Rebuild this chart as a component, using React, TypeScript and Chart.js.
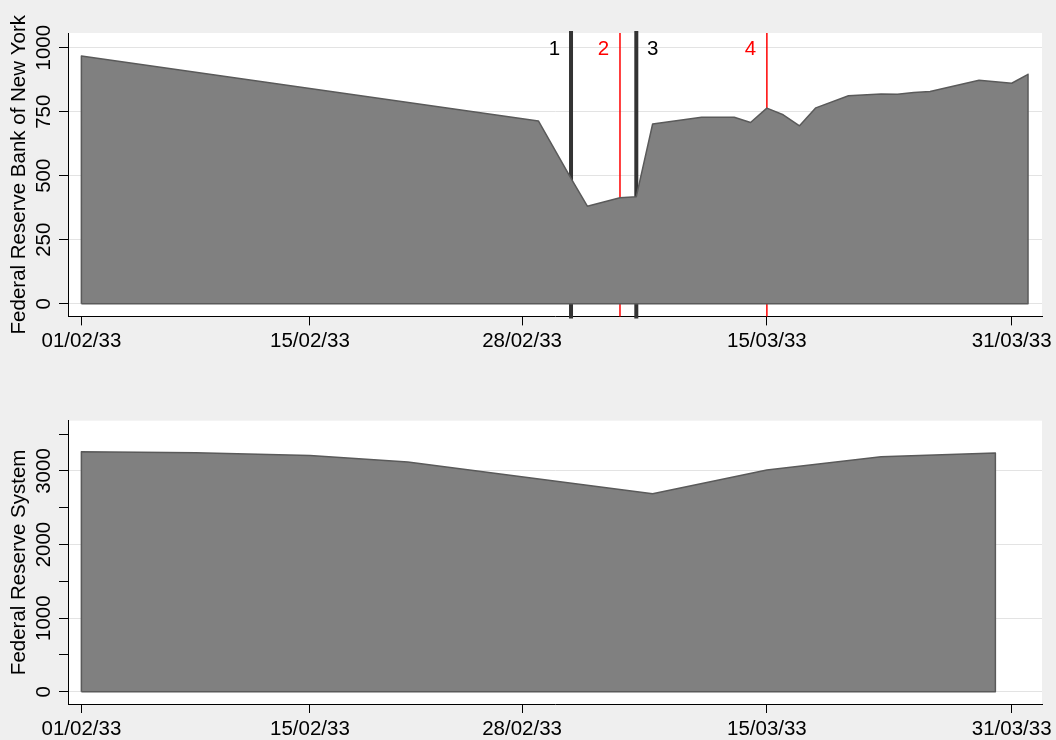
import React, { useEffect, useRef } from 'react';
import { Chart, registerables } from 'chart.js';

Chart.register(...registerables);

// ---------- data ----------
const BASE_DATE = '1933-02-01';

const nyDates = [
  '1933-02-01', '1933-03-01', '1933-03-03', '1933-03-04', '1933-03-06', '1933-03-07',
  '1933-03-08', '1933-03-11', '1933-03-13', '1933-03-14', '1933-03-15', '1933-03-16',
  '1933-03-17', '1933-03-18', '1933-03-20', '1933-03-22', '1933-03-23', '1933-03-24',
  '1933-03-25', '1933-03-28', '1933-03-30', '1933-03-31',
];
const nyValues = [
  968, 714, 490, 381, 414, 418,
  702, 728, 728, 708, 764, 738,
  695, 765, 812, 819, 818, 825,
  829, 873, 861, 896,
];

const frsDates = [
  '1933-02-01', '1933-02-08', '1933-02-15', '1933-02-21',
  '1933-03-08', '1933-03-15', '1933-03-22', '1933-03-29',
];
const frsValues = [3261, 3247, 3212, 3121, 2692, 3012, 3193, 3243];

const xTickDates = ['1933-02-01', '1933-02-15', '1933-02-28', '1933-03-15', '1933-03-30'];
const xTickLabels = ['01/02/33', '15/02/33', '28/02/33', '15/03/33', '31/03/33'];

const nyYTicks = [0, 250, 500, 750, 1000];
const nyYLabelValues = [0, 250, 500, 750, 1000];
const frsYTicks = [0, 500, 1000, 1500, 2000, 2500, 3000, 3500];
const frsYLabelValues = [0, 1000, 2000, 3000];

const eventDates = ['1933-03-03', '1933-03-06', '1933-03-07', '1933-03-15'];
const eventLabels = ['1', '2', '3', '4'];
const eventColors = ['#333333', '#ff0000', '#333333', '#ff0000'];
const eventWidths = [4, 1.5, 4, 1.5];
const eventLabelSide = [-1, -1, 1, -1];
const EVENT_LABEL_VALUE = 994;

const nyTitle = 'Federal Reserve Bank of New York';
const frsTitle = 'Federal Reserve System';

// ---------- helpers ----------
const FONT_FAMILY = '"Liberation Sans", Arial, Helvetica, sans-serif';
const FONT_SIZE = 20.5;
const FONT = `${FONT_SIZE}px ${FONT_FAMILY}`;
const DAY = 86400000;
const dayOf = (s: string) =>
  (Date.parse(s + 'T00:00:00Z') - Date.parse(BASE_DATE + 'T00:00:00Z')) / DAY;

const X_MIN = -0.82;
const X_MAX = 58.86;

type PanelCfg = {
  dates: string[];
  values: number[];
  yMin: number;
  yMax: number;
  yTicks: number[];
  yLabelValues: number[];
  title: string;
  padTop: number;
  xHeight: number;
  events: boolean;
};

function buildPanel(canvas: HTMLCanvasElement, cfg: PanelCfg) {
  const pts = cfg.dates.map((d, i) => ({ x: dayOf(d), y: cfg.values[i] }));
  const x0 = pts[0].x;
  const xn = pts[pts.length - 1].x;
  const outline = [{ x: x0, y: 0 }, ...pts, { x: xn, y: 0 }, { x: x0, y: 0 }];

  const panelPlugin = {
    id: 'panelPlugin',
    beforeDraw(chart: any) {
      const { ctx, chartArea: a } = chart;
      ctx.save();
      ctx.fillStyle = '#ffffff';
      ctx.fillRect(a.left, a.top, a.right - a.left, a.bottom - a.top);
      ctx.restore();
    },
    beforeDatasetsDraw(chart: any) {
      if (!cfg.events) return;
      const { ctx, chartArea: a } = chart;
      const xs = chart.scales.x;
      ctx.save();
      eventDates.forEach((d, i) => {
        const px = xs.getPixelForValue(dayOf(d));
        ctx.beginPath();
        ctx.strokeStyle = eventColors[i];
        ctx.lineWidth = eventWidths[i];
        ctx.lineCap = eventWidths[i] > 2 ? 'square' : 'butt';
        ctx.moveTo(px, a.top);
        ctx.lineTo(px, a.bottom);
        ctx.stroke();
      });
      ctx.restore();
    },
    afterDatasetsDraw(chart: any) {
      if (!cfg.events) return;
      const { ctx } = chart;
      const xs = chart.scales.x;
      const ys = chart.scales.y;
      ctx.save();
      ctx.font = FONT;
      ctx.textAlign = 'center';
      ctx.textBaseline = 'middle';
      eventDates.forEach((d, i) => {
        const px = xs.getPixelForValue(dayOf(d));
        ctx.fillStyle = eventColors[i] === '#ff0000' ? '#ff0000' : '#000000';
        ctx.fillText(eventLabels[i], px + eventLabelSide[i] * 16.5, ys.getPixelForValue(EVENT_LABEL_VALUE));
      });
      ctx.restore();
    },
    afterDraw(chart: any) {
      const { ctx, chartArea: a } = chart;
      const ys = chart.scales.y;
      ctx.save();
      ctx.font = FONT;
      ctx.fillStyle = '#000000';
      ctx.textAlign = 'center';
      ctx.textBaseline = 'middle';
      cfg.yLabelValues.forEach((v) => {
        const py = ys.getPixelForValue(v);
        ctx.save();
        ctx.translate(a.left - 23.5, py);
        ctx.rotate(-Math.PI / 2);
        ctx.fillText(String(v), 0, 0);
        ctx.restore();
      });
      ctx.save();
      ctx.translate(a.left - 48.8, (a.top + a.bottom) / 2);
      ctx.rotate(-Math.PI / 2);
      ctx.fillText(cfg.title, 0, 0);
      ctx.restore();
      ctx.restore();
    },
  };

  return new Chart(canvas, {
    type: 'line',
    data: {
      datasets: [
        {
          data: outline,
          borderColor: '#5a5a5a',
          borderWidth: 1.5,
          borderJoinStyle: 'round',
          fill: false,
          pointRadius: 0,
          tension: 0,
        },
        {
          data: pts,
          backgroundColor: '#808080',
          borderWidth: 0,
          borderColor: 'rgba(0,0,0,0)',
          fill: 'origin',
          pointRadius: 0,
          tension: 0,
        },
      ],
    },
    options: {
      responsive: false,
      animation: false,
      devicePixelRatio: 1,
      events: [],
      layout: { padding: { top: cfg.padTop, right: 13, left: 0, bottom: 0 } },
      plugins: { legend: { display: false }, tooltip: { enabled: false } },
      scales: {
        x: {
          type: 'linear',
          min: X_MIN,
          max: X_MAX,
          afterBuildTicks: (scale: any) => {
            scale.ticks = xTickDates.map((d) => ({ value: dayOf(d) }));
          },
          afterFit: (scale: any) => {
            scale.height = cfg.xHeight;
          },
          ticks: {
            autoSkip: false,
            maxRotation: 0,
            minRotation: 0,
            padding: 4,
            color: '#000000',
            font: { family: FONT_FAMILY, size: FONT_SIZE },
            callback: (_v: any, i: number) => xTickLabels[i],
          },
          grid: {
            drawOnChartArea: false,
            drawTicks: true,
            tickLength: 9,
            tickColor: '#000000',
            tickWidth: 1,
          },
          border: { display: true, color: '#000000', width: 1 },
        },
        y: {
          type: 'linear',
          min: cfg.yMin,
          max: cfg.yMax,
          afterBuildTicks: (scale: any) => {
            scale.ticks = cfg.yTicks.map((v) => ({ value: v }));
          },
          afterFit: (scale: any) => {
            scale.width = 68;
          },
          ticks: { display: false },
          grid: {
            drawOnChartArea: true,
            drawTicks: true,
            tickLength: 9,
            tickColor: '#000000',
            tickWidth: 1,
            lineWidth: 1,
            color: (c: any) =>
              c.tick && cfg.yLabelValues.includes(c.tick.value) ? '#e3e3e3' : 'rgba(0,0,0,0)',
          },
          border: { display: true, color: '#000000', width: 1 },
        },
      },
    } as any,
    plugins: [panelPlugin],
  });
}

export default function App() {
  const topRef = useRef<HTMLCanvasElement>(null);
  const botRef = useRef<HTMLCanvasElement>(null);

  useEffect(() => {
    const top = buildPanel(topRef.current!, {
      dates: nyDates,
      values: nyValues,
      yMin: -49.6,
      yMax: 1057.4,
      yTicks: nyYTicks,
      yLabelValues: nyYLabelValues,
      title: nyTitle,
      padTop: 33,
      xHeight: 370 - 316.4,
      events: true,
    });
    const bot = buildPanel(botRef.current!, {
      dates: frsDates,
      values: frsValues,
      yMin: -167.2,
      yMax: 3683.6,
      yTicks: frsYTicks,
      yLabelValues: frsYLabelValues,
      title: frsTitle,
      padTop: 50.7,
      xHeight: 36,
      events: false,
    });
    return () => {
      top.destroy();
      bot.destroy();
    };
  }, []);

  return (
    <div
      style={{
        position: 'fixed',
        left: 0,
        top: 0,
        width: 1056,
        height: 740,
        background: '#efefef',
        overflow: 'hidden',
      }}
    >
      <canvas
        ref={topRef}
        width={1056}
        height={370}
        style={{ position: 'absolute', left: 0, top: 0, width: 1056, height: 370, display: 'block' }}
      />
      <canvas
        ref={botRef}
        width={1056}
        height={370}
        style={{ position: 'absolute', left: 0, top: 370, width: 1056, height: 370, display: 'block' }}
      />
    </div>
  );
}
